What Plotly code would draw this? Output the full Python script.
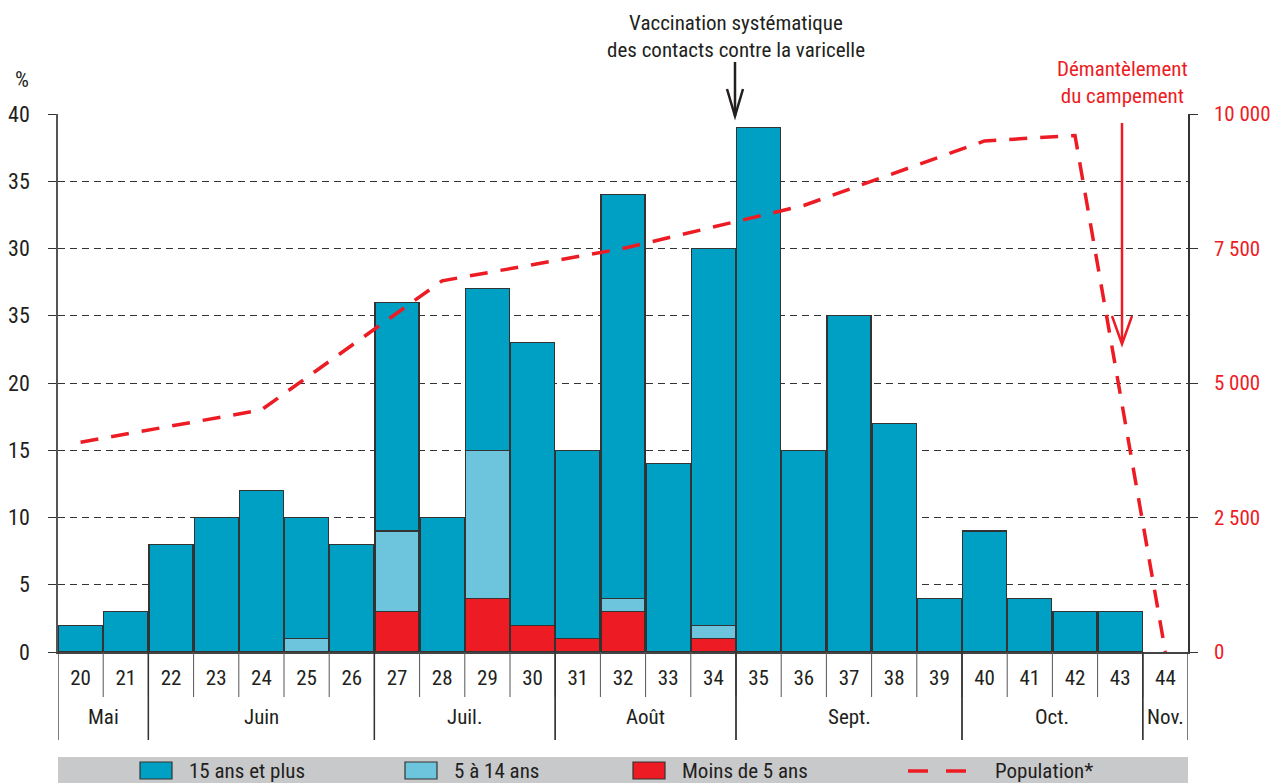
import plotly.graph_objects as go

# ---------------- data ----------------
weeks = [20, 21, 22, 23, 24, 25, 26, 27, 28, 29, 30, 31, 32, 33, 34, 35, 36, 37, 38, 39, 40, 41, 42, 43, 44]
week_labels = [str(w) for w in weeks]
under5 = [0, 0, 0, 0, 0, 0, 0, 3, 0, 4, 2, 1, 3, 0, 1, 0, 0, 0, 0, 0, 0, 0, 0, 0, None]
age5_14 = [0, 0, 0, 0, 0, 1, 0, 6, 0, 11, 0, 0, 1, 0, 1, 0, 0, 0, 0, 0, 0, 0, 0, 0, None]
age15plus = [2, 3, 8, 10, 12, 9, 8, 17, 10, 12, 21, 14, 30, 14, 28, 39, 15, 25, 17, 4, 9, 4, 3, 3, None]
population = [3900, None, None, None, 4500, None, None, None, 6900, None, None, None, 7500,
              None, None, None, 8300, None, None, None, 9500, None, 9600, None, 0]

months = ["Mai", "Juin", "Juil.", "Août", "Sept.", "Oct.", "Nov."]
month_first = [20, 22, 27, 31, 35, 40, 44]
month_last = [21, 26, 30, 34, 39, 43, 44]

left_tickvals = [0, 5, 10, 15, 20, 25, 30, 35, 40]
left_ticktext = ["0", "5", "10", "15", "20", "35", "30", "35", "40"]
right_tickvals = [0, 2500, 5000, 7500, 10000]
right_ticktext = ["0", "2 500", "5 000", "7 500", "10 000"]

series_names = ["15 ans et plus", "5 à 14 ans", "Moins de 5 ans", "Population*"]

# ---------------- style ----------------
W, H = 1273, 783
L, R, T, B = 58, 1188, 114, 652
FONT = "Liberation Sans Narrow, Roboto Condensed, DejaVu Sans Condensed, Arial Narrow, sans-serif"
TXT = "#231f20"
TEAL = "#00a0c4"
LIGHT = "#6cc5dd"
RED = "#ed1c24"
EDGE = "#333333"


def px(x):
    return (x - L) / (R - L)


def py(y):
    return (B - y) / (B - T)


fig = go.Figure()
for vals, col, name in [(under5, RED, series_names[2]),
                        (age5_14, LIGHT, series_names[1]),
                        (age15plus, TEAL, series_names[0])]:
    fig.add_trace(go.Bar(x=weeks, y=vals, name=name, width=0.97,
                         marker=dict(color=col, line=dict(color=EDGE, width=1.2)),
                         showlegend=False))

fig.add_trace(go.Scatter(x=weeks, y=population, yaxis="y2", mode="lines", connectgaps=True,
                         name=series_names[3], showlegend=False,
                         line=dict(color=RED, width=3.5, dash="18px,13px")))

shapes = []
annotations = []

# category table below the axis
for i in range(len(weeks) - 1):
    b = weeks[i] + 0.5
    shapes.append(dict(type="line", xref="x", yref="paper", x0=b, x1=b,
                       y0=0, y1=py(697), line=dict(color="#555555", width=1)))
for f, l in zip(month_first, month_last):
    for b in (f - 0.5, l + 0.5):
        shapes.append(dict(type="line", xref="x", yref="paper", x0=b, x1=b,
                           y0=0, y1=py(740), line=dict(color="#333333", width=1.3)))
for m, f, l in zip(months, month_first, month_last):
    annotations.append(dict(text=m, xref="x", yref="paper", x=(f + l) / 2, y=py(717),
                            showarrow=False, xanchor="center", yanchor="middle",
                            font=dict(size=21, color=TXT, family=FONT)))

# legend band
shapes.append(dict(type="rect", xref="paper", yref="paper", x0=0, x1=1, y0=py(783), y1=py(757),
                   fillcolor="#c8c9cb", line=dict(width=0), layer="below"))
leg_box_x = [140, 405, 633]
leg_cols = [TEAL, LIGHT, RED]
leg_text_x = [187, 452, 680, 993]
for bx, c in zip(leg_box_x, leg_cols):
    shapes.append(dict(type="rect", xref="paper", yref="paper", x0=px(bx), x1=px(bx + 32),
                       y0=py(779), y1=py(762), fillcolor=c, line=dict(color=EDGE, width=1.2)))
shapes.append(dict(type="line", xref="paper", yref="paper", x0=px(908), x1=px(968),
                   y0=py(771), y1=py(771), line=dict(color=RED, width=3.5, dash="20px,18px")))
for tx, name in zip(leg_text_x, series_names):
    annotations.append(dict(text=name, xref="paper", yref="paper", x=px(tx), y=py(771),
                            showarrow=False, xanchor="left", yanchor="middle",
                            font=dict(size=21, color=TXT, family=FONT)))

# arrows
def path(pts):
    return "M " + " L ".join(f"{px(a)},{py(b)}" for a, b in pts)

shapes.append(dict(type="path", xref="paper", yref="paper", path=path([(735, 62), (735, 116)]),
                   line=dict(color="#231f20", width=2.5)))
shapes.append(dict(type="path", xref="paper", yref="paper", path=path([(727, 89), (735, 116), (743, 89)]),
                   line=dict(color="#231f20", width=2.5)))
shapes.append(dict(type="path", xref="paper", yref="paper", path=path([(1122, 123), (1122, 343)]),
                   line=dict(color=RED, width=2.5)))
shapes.append(dict(type="path", xref="paper", yref="paper", path=path([(1112, 316), (1122, 344), (1132, 316)]),
                   line=dict(color=RED, width=2.5)))

# text annotations
annotations += [
    dict(text="%", xref="paper", yref="paper", x=px(22), y=py(80), showarrow=False,
         xanchor="center", yanchor="middle", font=dict(size=22, color=TXT, family=FONT)),
    dict(text="Vaccination systématique<br>des contacts contre la varicelle", xref="paper", yref="paper",
         x=px(736), y=py(36), showarrow=False, xanchor="center", yanchor="middle",
         font=dict(size=21, color=TXT, family=FONT), align="center"),
    dict(text="Démantèlement<br>du campement", xref="paper", yref="paper",
         x=px(1122), y=py(82), showarrow=False, xanchor="center", yanchor="middle",
         font=dict(size=21, color=RED, family=FONT), align="center"),
]

fig.update_layout(
    width=W, height=H,
    margin=dict(l=L, r=W - R, t=T, b=H - B, autoexpand=False),
    paper_bgcolor="white", plot_bgcolor="white",
    barmode="stack", bargap=0.03,
    font=dict(family=FONT, size=20, color=TXT),
    showlegend=False,
    shapes=shapes, annotations=annotations,
    xaxis=dict(range=[19.5, 44.5], tickvals=weeks, ticktext=week_labels, ticks="",
               showgrid=False, zeroline=False, showline=True, linecolor="#444444", linewidth=2,
               tickfont=dict(size=21, color=TXT, family=FONT), ticklabelstandoff=6),
    yaxis=dict(range=[0, 40], tickvals=left_tickvals, ticktext=left_ticktext,
               showgrid=True, gridcolor="#333333", gridwidth=1, griddash="7px,5px",
               zeroline=False, showline=True, linecolor="#555555", linewidth=1.5,
               ticks="outside", ticklen=8, tickcolor="#333333", tickwidth=1,
               tickfont=dict(size=22, color=TXT, family=FONT), ticklabelstandoff=14),
    yaxis2=dict(range=[0, 10000], overlaying="y", side="right", tickvals=right_tickvals,
                ticktext=right_ticktext, showgrid=False, zeroline=False, showline=True,
                linecolor="#333333", linewidth=1.5, ticks="outside", ticklen=8,
                tickcolor="#333333", tickwidth=1,
                tickfont=dict(size=21, color=RED, family=FONT), ticklabelstandoff=12),
)

fig.write_html("out.html", config={"displayModeBar": False},
               post_script="document.body.style.margin='0';document.body.style.padding='0';")
